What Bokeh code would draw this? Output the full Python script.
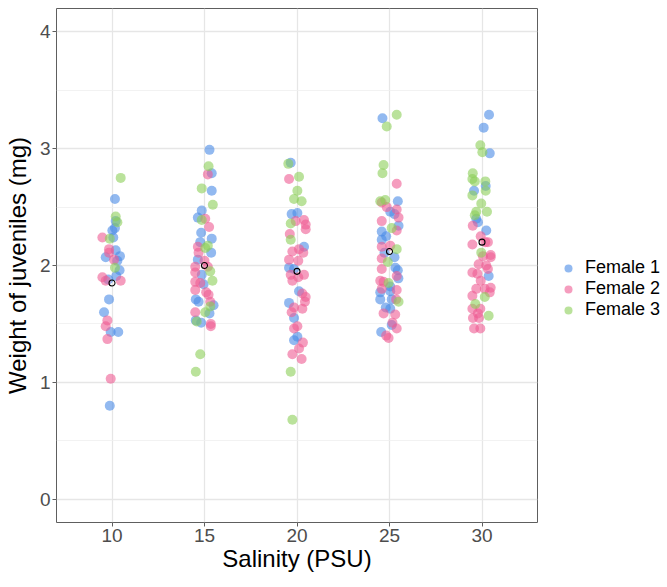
from bokeh.plotting import figure
from bokeh.models import Legend, LegendItem, ColumnDataSource, FixedTicker, Range1d
from bokeh.embed import file_html
from bokeh.resources import INLINE

salinity_levels = [10, 15, 20, 25, 30]
group_means = [1.85, 2.00, 1.95, 2.12, 2.20]
series_names = ["Female 1", "Female 2", "Female 3"]
y_ticks = [0, 1, 2, 3, 4]

# jitter (PSU offset around salinity level) and weight (mg), per female and salinity
female1_jitter = {
    10: [.16, .2, .16, .02, .07, .2, -.34, .43, .29, .41, -.2, .23, -.16, -.43, -.07, .34, -.12],
    15: [.27, .39, .39, -.15, -.36, -.18, .39, -.23, .36, -.36, -.15, -.05, -.47, -.32, .49, .27, -.47, -.18],
    20: [-.34, -.29, .02, .38, -.43, -.16, .11, -.43, -.16, .02, -.16],
    25: [-.38, .45, .04, .27, .49, -.42, -.18, -.42, -.27, .27, .32, .45, .48, .04, -.5, .04, -.5, .12, -.2, .04, .12, -.45],
    30: [.38, .09, .42, .2, -.43, -.31, -.22, .23, .36],
}
female1_weight = {
    10: [2.57, 2.38, 2.32, 2.30, 2.24, 2.13, 2.07, 2.08, 2.04, 1.96, 1.88, 1.91, 1.71, 1.60, 1.43, 1.43, 0.80],
    15: [2.99, 2.79, 2.64, 2.47, 2.41, 2.28, 2.23, 2.20, 2.11, 2.05, 1.92, 1.84, 1.71, 1.69, 1.66, 1.59, 1.53, 1.51],
    20: [2.88, 2.44, 2.45, 2.16, 1.98, 1.97, 1.78, 1.68, 1.55, 1.39, 1.36],
    25: [3.26, 2.55, 2.46, 2.44, 2.34, 2.29, 2.25, 2.22, 2.11, 2.07, 1.98, 1.96, 1.89, 1.82, 1.77, 1.78, 1.71, 1.71, 1.64, 1.63, 1.49, 1.43],
    30: [3.29, 3.18, 2.96, 2.68, 2.64, 2.40, 2.37, 2.30, 1.91],
}
female2_jitter = {
    10: [-.52, -.16, -.16, .11, -.52, -.34, .47, -.25, -.34, -.25, -.07],
    15: [.18, .04, .25, -.36, -.32, 0, -.5, .18, -.5, -.5, -.23, -.5, .09, .22, .31, -.5, .34, .34],
    20: [-.43, -.07, .38, .47, .47, -.39, -.25, .11, .34, -.43, .07, -.34, -.25, .38, .07, .29, .47, .43, -.16, .29, -.29, .02, -.16, .32, .11, -.25, .25],
    25: [.39, -.42, -.15, .39, .49, -.42, .39, -.42, .04, -.42, -.42, .39, -.5, -.32, -.42, .39, .36, -.32, .31, .16, .39, -.18, -.05],
    30: [-.5, -.07, .32, .18, -.52, .47, .05, .47, -.18, .23, .32, -.52, -.25, -.07, -.31, .15, .47, .42, -.52, -.52, -.09, -.22, -.49, -.16, -.43, -.09],
}
female2_weight = {
    10: [2.24, 2.14, 2.11, 2.05, 1.90, 1.87, 1.87, 1.53, 1.48, 1.37, 1.03],
    15: [2.78, 2.40, 2.33, 2.16, 2.11, 2.04, 1.99, 1.99, 1.94, 1.86, 1.85, 1.79, 1.77, 1.75, 1.69, 1.60, 1.50, 1.48],
    20: [2.74, 2.38, 2.39, 2.35, 2.31, 2.27, 2.12, 2.14, 2.11, 2.05, 2.04, 1.92, 1.87, 1.92, 1.90, 1.76, 1.73, 1.69, 1.64, 1.63, 1.60, 1.48, 1.46, 1.34, 1.29, 1.24, 1.20],
    25: [2.70, 2.54, 2.50, 2.48, 2.41, 2.38, 2.30, 2.16, 2.17, 2.06, 1.97, 1.91, 1.87, 1.86, 1.80, 1.79, 1.71, 1.59, 1.58, 1.51, 1.46, 1.40, 1.38],
    30: [2.34, 2.25, 2.20, 2.20, 2.18, 2.09, 2.08, 2.07, 2.01, 2.00, 1.97, 1.94, 1.93, 1.87, 1.80, 1.80, 1.81, 1.77, 1.74, 1.63, 1.63, 1.59, 1.55, 1.55, 1.46, 1.46],
}
female3_jitter = {
    10: [.47, .2, .29, -.12, .16],
    15: [.22, -.15, .45, -.15, .18, .04, .31, .43, .31, .04, -.42, -.23, -.47],
    20: [-.47, .11, .02, -.16, .25, -.34, -.34, -.34, -.25],
    25: [.39, -.15, -.32, -.38, -.5, -.23, .12, .39, -.09, -.05, .49],
    30: [-.09, .02, -.5, -.52, -.39, .18, .2, -.52, -.04, .27, -.31, -.39, -.04, .15, -.36, .36],
}
female3_weight = {
    10: [2.75, 2.42, 2.37, 2.23, 1.98],
    15: [2.85, 2.66, 2.52, 2.39, 2.17, 2.15, 1.95, 1.87, 1.65, 1.60, 1.52, 1.24, 1.09],
    20: [2.87, 2.76, 2.64, 2.57, 2.55, 2.36, 2.22, 1.09, 0.68],
    25: [3.29, 3.19, 2.86, 2.79, 2.55, 2.56, 2.32, 2.14, 2.03, 1.85, 1.69],
    30: [3.03, 2.97, 2.79, 2.74, 2.72, 2.72, 2.64, 2.60, 2.53, 2.46, 2.46, 2.43, 2.11, 1.73, 1.67, 1.57],
}

colors = ["#4a8ae6", "#ee5b92", "#8ccf58"]


def build(jit, wt):
    xs, ys = [], []
    for s in salinity_levels:
        for j, w in zip(jit[s], wt[s]):
            xs.append(s + j)
            ys.append(w)
    return ColumnDataSource(dict(x=xs, y=ys))


FRAME_H = 514
p = figure(frame_width=481, frame_height=FRAME_H, output_backend="svg", toolbar_location=None,
           x_range=Range1d(7.0, 33.0), y_range=Range1d(-0.2, 4.2),
           min_border_left=50, min_border_right=120, min_border_top=8, min_border_bottom=0)

p.background_fill_color = "white"
p.border_fill_color = "white"
p.outline_line_color = "#5e5e5e"
p.outline_line_width = 1

p.xgrid.ticker = FixedTicker(ticks=salinity_levels)
p.ygrid.ticker = FixedTicker(ticks=y_ticks, minor_ticks=[-0.5, 0.5, 1.5, 2.5, 3.5])
p.xgrid.grid_line_color = "#e6e6e6"
p.ygrid.grid_line_color = "#e6e6e6"
p.xgrid.grid_line_width = 1.3
p.ygrid.grid_line_width = 1.3
p.ygrid.minor_grid_line_color = "#efefef"
p.ygrid.minor_grid_line_width = 0.8

p.xaxis.ticker = FixedTicker(ticks=salinity_levels)
p.yaxis.ticker = FixedTicker(ticks=y_ticks)
for ax in (p.xaxis[0], p.yaxis[0]):
    ax.axis_line_color = None
    ax.major_tick_line_color = "#5e5e5e"
    ax.major_tick_out = 4
    ax.major_tick_in = 0
    ax.minor_tick_line_color = None
    ax.major_label_text_font = "Liberation Sans"
    ax.major_label_text_font_size = "19px"
    ax.major_label_text_color = "#4d4d4d"
    ax.axis_label_text_font = "Liberation Sans"
    ax.axis_label_text_font_size = "24px"
    ax.axis_label_text_font_style = "normal"
    ax.axis_label_text_color = "black"
    ax.major_label_standoff = 2
    ax.axis_label_standoff = 0
p.yaxis[0].axis_label_standoff = 6
p.xaxis.axis_label = "Salinity (PSU)"
p.yaxis.axis_label = "Weight of juveniles (mg)"

items = []
for name, c, jit, wt in zip(series_names, colors,
                            [female1_jitter, female2_jitter, female3_jitter],
                            [female1_weight, female2_weight, female3_weight]):
    r = p.scatter("x", "y", source=build(jit, wt), size=10, fill_color=c,
                  fill_alpha=0.6, line_color=None)
    items.append(LegendItem(label=name, renderers=[r]))

p.scatter(salinity_levels, group_means, size=6, fill_color=None,
          line_color="black", line_width=1.1)

legend = Legend(items=items, location=(21, 202),
                border_line_color=None, background_fill_alpha=0,
                label_text_font="Liberation Sans", label_text_font_size="18px",
                label_text_color="black", glyph_width=20, glyph_height=20,
                spacing=0, padding=0, label_standoff=7, margin=0)
p.add_layout(legend, "right")

open("out.html", "w").write(file_html(p, INLINE))
